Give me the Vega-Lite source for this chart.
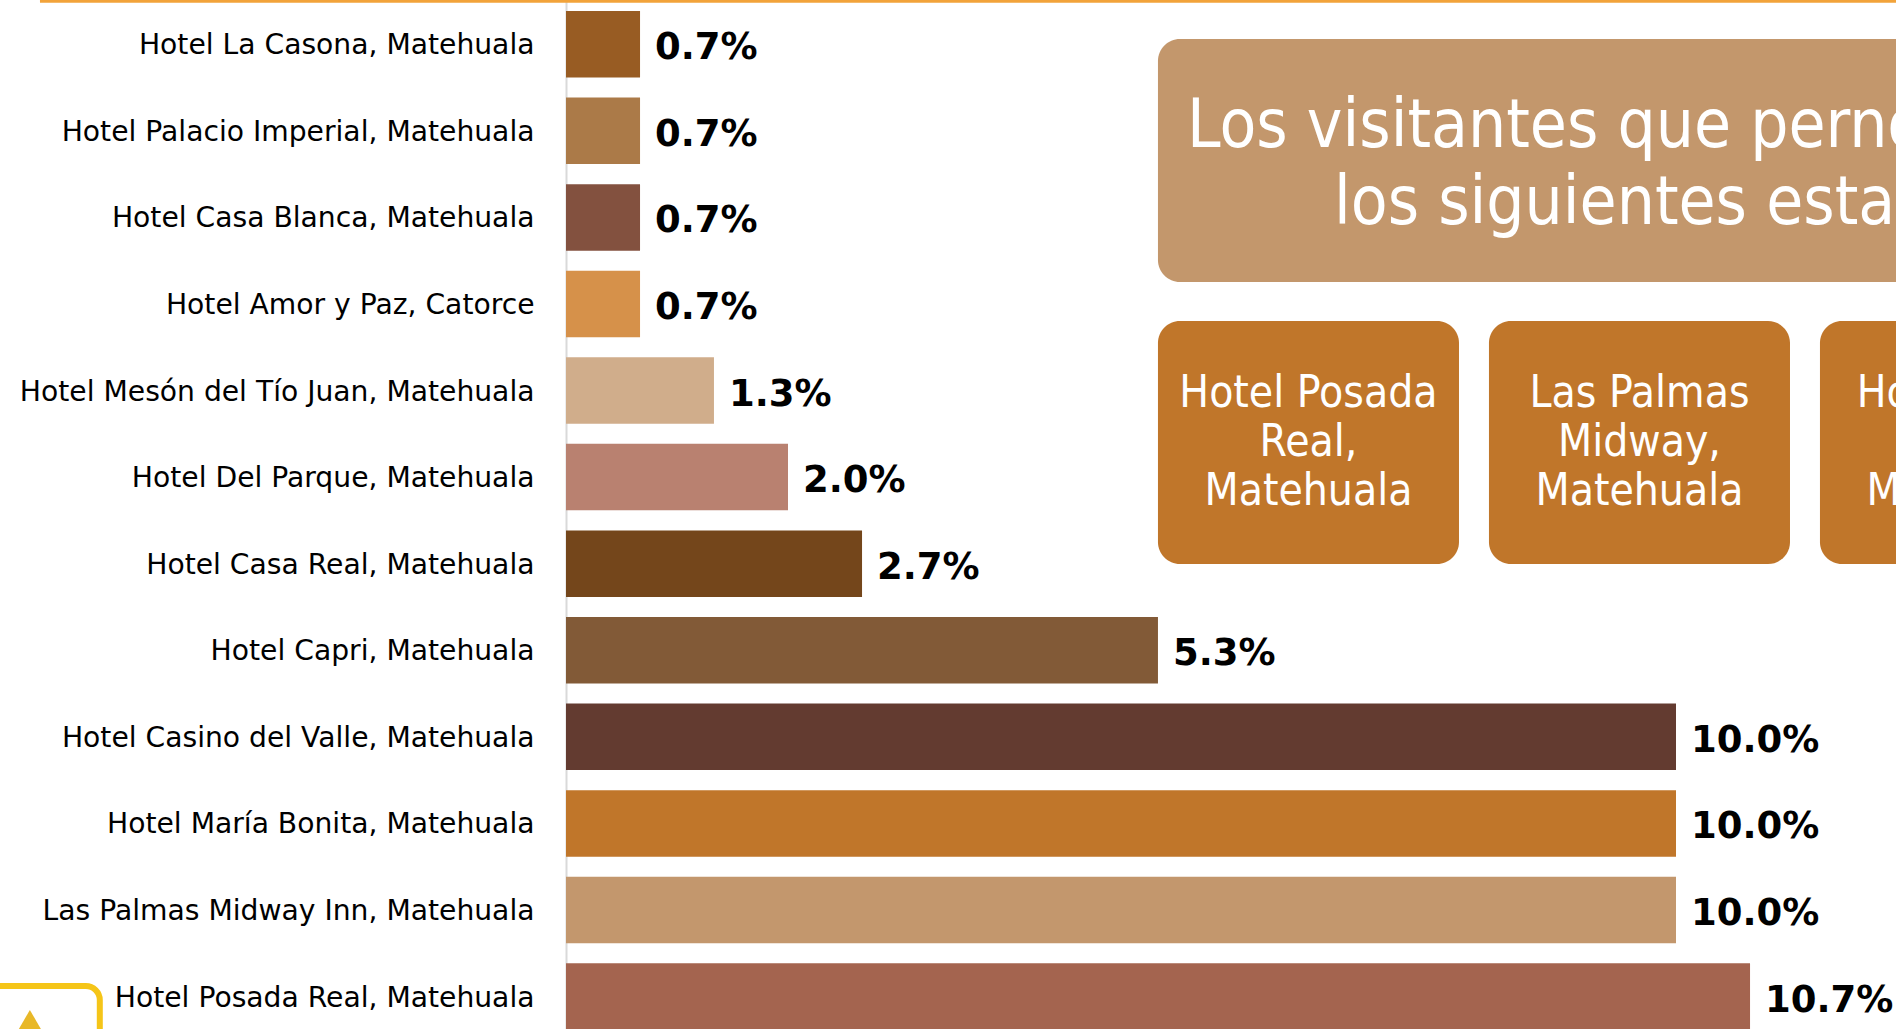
{
  "$schema": "https://vega.github.io/schema/vega-lite/v6.json",
  "autosize": {"type": "none"},
  "width": 1330,
  "height": 1029,
  "padding": {"left": 566, "top": 0, "right": 0, "bottom": 0},
  "background": "#ffffff",
  "config": {"view": {"stroke": null}},
  "datasets": {
    "hotels": [
      {"hotel": "Hotel La Casona, Matehuala", "share": 0.00667, "color": "#985c23"},
      {"hotel": "Hotel Palacio Imperial, Matehuala", "share": 0.00667, "color": "#ab7a48"},
      {"hotel": "Hotel Casa Blanca, Matehuala", "share": 0.00667, "color": "#83513f"},
      {"hotel": "Hotel Amor y Paz, Catorce", "share": 0.00667, "color": "#d6914a"},
      {"hotel": "Hotel Mesón del Tío Juan, Matehuala", "share": 0.01333, "color": "#d0ad8b"},
      {"hotel": "Hotel Del Parque, Matehuala", "share": 0.02, "color": "#b98170"},
      {"hotel": "Hotel Casa Real, Matehuala", "share": 0.02667, "color": "#74461b"},
      {"hotel": "Hotel Capri, Matehuala", "share": 0.05333, "color": "#825a37"},
      {"hotel": "Hotel Casino del Valle, Matehuala", "share": 0.1, "color": "#633b30"},
      {"hotel": "Hotel María Bonita, Matehuala", "share": 0.1, "color": "#c0762a"},
      {"hotel": "Las Palmas Midway Inn, Matehuala", "share": 0.1, "color": "#c3976d"},
      {"hotel": "Hotel Posada Real, Matehuala", "share": 0.10667, "color": "#a4644f"}
    ],
    "boxes": [
      {"kind": "title", "x": 0.05333, "x2": 0.1562, "y": 0.448, "y2": 3.241},
      {"kind": "top", "x": 0.05333, "x2": 0.08045, "y": 3.69, "y2": 6.483},
      {"kind": "top", "x": 0.08315, "x2": 0.11027, "y": 3.69, "y2": 6.483},
      {"kind": "top", "x": 0.11297, "x2": 0.14009, "y": 3.69, "y2": 6.483}
    ],
    "boxtext": [
      {"x": 0.06689, "y": 4.53, "t": "Hotel Posada\nReal,\nMatehuala"},
      {"x": 0.09671, "y": 4.53, "t": "Las Palmas\nMidway,\nMatehuala"},
      {"x": 0.12653, "y": 4.53, "t": "Hotel María\nBonita,\nMatehuala"}
    ],
    "titletext": [
      {"x": 0.05595, "y": 1.695, "t": "Los visitantes que pernoctaron prefirieron"},
      {"x": 0.06919, "y": 2.571, "t": "los siguientes establecimientos"}
    ],
    "topline": [{"x": -0.04739, "x2": 0.125, "y": 0.015}],
    "logo": [{"x": -0.053, "x2": -0.0420, "y": 11.333, "y2": 12.4}],
    "logostar": [{"x": -0.0483, "y": 11.72}]
  },
  "layer": [
    {
      "data": {"name": "hotels"},
      "layer": [
        {
          "mark": {"type": "bar", "orient": "horizontal"},
          "encoding": {
            "y": {
              "field": "hotel", "type": "nominal", "sort": null,
              "scale": {"range": [0, 1040.8], "paddingInner": 0.232, "paddingOuter": 0.127},
              "axis": {"title": null, "ticks": false, "domain": true, "domainColor": "#d9d9d9", "domainWidth": 2,
                       "labelFont": "DejaVu Sans", "labelFontSize": 28.2, "labelColor": "#000000",
                       "labelPadding": 32, "labelLimit": 700, "labelOffset": 2}
            },
            "x": {"field": "share", "type": "quantitative", "scale": {"domain": [0, 0.11982], "nice": false}, "axis": null},
            "color": {"field": "color", "type": "nominal", "scale": null, "legend": null}
          }
        },
        {
          "mark": {"type": "text", "align": "left", "baseline": "middle", "dx": 15, "dy": 4, "font": "DejaVu Sans", "fontWeight": "bold", "fontSize": 37, "color": "#000000"},
          "encoding": {
            "y": {"field": "hotel", "type": "nominal", "sort": null},
            "x": {"field": "share", "type": "quantitative"},
            "text": {"field": "share", "type": "quantitative", "format": ".1%"}
          }
        }
      ]
    },
    {
      "layer": [
        {
          "data": {"name": "boxes"},
          "mark": {"type": "rect", "cornerRadius": 22},
          "encoding": {
            "x": {"field": "x", "type": "quantitative", "scale": {"domain": [0, 0.11982], "nice": false}, "axis": null},
            "x2": {"field": "x2"},
            "y": {"field": "y", "type": "quantitative", "scale": {"domain": [0, 11.828], "reverse": true, "nice": false, "zero": false}, "axis": null},
            "y2": {"field": "y2"},
            "color": {"field": "kind", "type": "nominal", "scale": {"domain": ["title", "top"], "range": ["#c3976c", "#c0762a"]}, "legend": null}
          }
        },
        {
          "data": {"name": "boxtext"},
          "mark": {"type": "text", "align": "center", "baseline": "middle", "lineBreak": "\n", "lineHeight": 49, "font": "DejaVu Sans Condensed", "fontSize": 44, "color": "#ffffff"},
          "encoding": {
            "x": {"field": "x", "type": "quantitative"},
            "y": {"field": "y", "type": "quantitative"},
            "text": {"field": "t"}
          }
        },
        {
          "data": {"name": "titletext"},
          "mark": {"type": "text", "align": "left", "baseline": "alphabetic", "font": "DejaVu Sans Condensed", "fontSize": 67, "color": "#ffffff"},
          "encoding": {
            "x": {"field": "x", "type": "quantitative"},
            "y": {"field": "y", "type": "quantitative"},
            "text": {"field": "t"}
          }
        },
        {
          "data": {"name": "topline"},
          "mark": {"type": "rule", "color": "#f2a33a", "strokeWidth": 3},
          "encoding": {
            "x": {"field": "x", "type": "quantitative"},
            "x2": {"field": "x2"},
            "y": {"field": "y", "type": "quantitative"}
          }
        },
        {
          "data": {"name": "logo"},
          "mark": {"type": "rect", "cornerRadius": 14, "fill": "#ffffff", "stroke": "#f5c518", "strokeWidth": 6},
          "encoding": {
            "x": {"field": "x", "type": "quantitative"},
            "x2": {"field": "x2"},
            "y": {"field": "y", "type": "quantitative"},
            "y2": {"field": "y2"}
          }
        },
        {
          "data": {"name": "logostar"},
          "mark": {"type": "point", "shape": "triangle-up", "filled": true, "color": "#e8b828", "size": 500, "opacity": 1},
          "encoding": {
            "x": {"field": "x", "type": "quantitative"},
            "y": {"field": "y", "type": "quantitative"}
          }
        }
      ]
    }
  ],
  "resolve": {"scale": {"y": "independent", "color": "independent"}, "axis": {"y": "independent"}}
}
